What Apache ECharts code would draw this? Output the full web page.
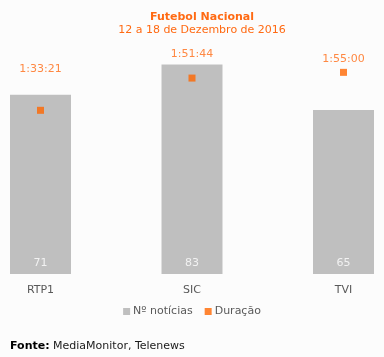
<!DOCTYPE html>
<html><head><meta charset="utf-8">
<script src="https://cdn.jsdelivr.net/npm/echarts@6/dist/echarts.min.js"></script>
<style>html,body{margin:0;padding:0;background:#fcfcfc;}#c{width:384px;height:357px;}</style>
</head><body><div id="c"></div>
<script>
const categories = ['RTP1', 'SIC', 'TVI'];
const noticias = [71, 83, 65];
const duracao = ['1:33:21', '1:51:44', '1:55:00'];
const labelLift = [41, 24, 13];

function toSec(s){const p=s.split(':').map(Number);return p[0]*3600+p[1]*60+p[2];}
function toHms(v){const h=Math.floor(v/3600),m=Math.floor(v%3600/60),s=v%60;return h+':'+String(m).padStart(2,'0')+':'+String(s).padStart(2,'0');}

const font = '"DejaVu Sans"';
const chart = echarts.init(document.getElementById('c'));
chart.setOption({
  backgroundColor: '#fcfcfc',
  animation: false,
  title: {
    text: 'Futebol Nacional',
    subtext: '12 a 18 de Dezembro de 2016',
    left: 197, top: 7, textAlign: 'center', itemGap: 2,
    textStyle: {fontFamily: font, fontSize: 11, fontWeight: 'bold', color: '#ff6a13'},
    subtextStyle: {fontFamily: font, fontSize: 11, color: '#ff6a13'}
  },
  legend: {
    top: 301, left: 'center', itemWidth: 7, itemHeight: 7, itemGap: 12,
    icon: 'rect',
    textStyle: {fontFamily: font, fontSize: 11, color: '#595959', padding: [0,0,0,-2]},
    data: ['Nº notícias', 'Duração']
  },
  grid: {left: 40.5, right: 40.5, top: 21.5, bottom: 83},
  xAxis: {
    type: 'category', data: categories, boundaryGap: false,
    axisLine: {show: false}, axisTick: {show: false},
    axisLabel: {margin: 11, fontFamily: font, fontSize: 11, color: '#595959'}
  },
  yAxis: [
    {type: 'value', min: 0, max: 100, show: false, splitLine: {show: false}},
    {type: 'value', min: 0, max: 8640, show: false, splitLine: {show: false}}
  ],
  series: [
    {
      name: 'Nº notícias', type: 'bar', barWidth: 61, data: noticias,
      itemStyle: {color: '#bfbfbf'},
      label: {show: true, position: 'insideBottom', distance: 5, color: '#f2f2f2', fontFamily: font, fontSize: 11}
    },
    {
      name: 'Duração', type: 'scatter', yAxisIndex: 1, symbol: 'rect', symbolSize: 7,
      itemStyle: {color: '#ff6600'},
      data: duracao.map((d, i) => ({
        value: toSec(d),
        label: {show: true, position: 'inside', offset: [0, -labelLift[i]],
          formatter: p => toHms(p.value), color: '#ff6a13', fontFamily: font, fontSize: 11}
      }))
    }
  ],
  graphic: [{
    type: 'text', left: 10, top: 341,
    style: {
      text: '{b|Fonte:} MediaMonitor, Telenews',
      font: '11px ' + font, fill: '#1a1a1a',
      rich: {b: {fontWeight: 'bold', fontFamily: font, fontSize: 11, fill: '#000'}}
    }
  }]
});
</script></body></html>
